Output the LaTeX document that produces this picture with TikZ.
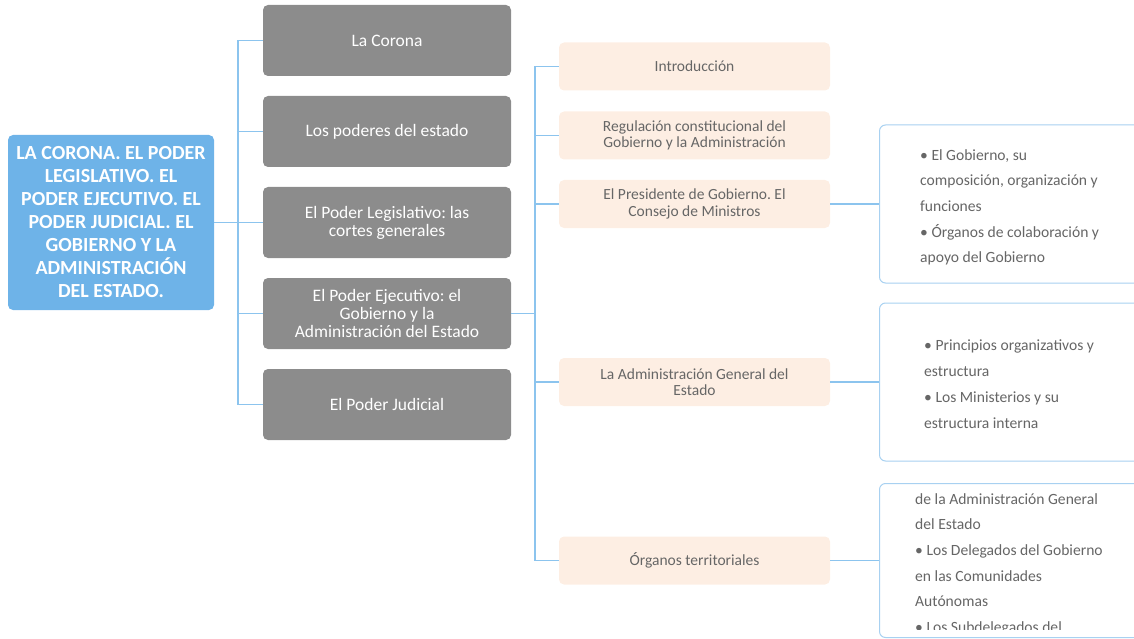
\documentclass[tikz,border=0pt]{standalone}
\usepackage{fontspec}
\setmainfont{Carlito}
\usepackage{tikz}
\usetikzlibrary{positioning}
\frenchspacing

\definecolor{rootblue}{HTML}{6EB3E8}
\definecolor{topicgray}{HTML}{8C8C8C}
\definecolor{subpeach}{HTML}{FDEEE3}
\definecolor{subtext}{HTML}{666666}
\definecolor{linkblue}{HTML}{8CC4EE}
\definecolor{noteblue}{HTML}{A8D1F1}

\tikzset{
    rootbox/.style={fill=rootblue, rounded corners=5pt, minimum width=206pt, minimum height=175pt,
        text=white, font=\fontsize{20}{23}\selectfont\bfseries, align=center, inner sep=0pt},
    topic/.style={fill=topicgray, rounded corners=5pt, minimum width=248pt, minimum height=71pt,
        text=white, font=\fontsize{17.5}{18}\selectfont, align=center, inner sep=0pt},
    subtopic/.style={fill=subpeach, rounded corners=5pt, minimum width=271pt, minimum height=48pt,
        text=subtext, font=\fontsize{15.5}{16.5}\selectfont, align=center, inner sep=0pt},
    notebox/.style={draw=noteblue, line width=1pt, fill=white, rounded corners=6pt,
        minimum width=285pt, minimum height=158pt, anchor=west},
    notetext/.style={text=subtext, font=\fontsize{15.6}{25.7}\selectfont, align=left,
        anchor=north west, inner sep=0pt},
    link/.style={draw=linkblue, line width=1.2pt},
}

\begin{document}
\begin{tikzpicture}[x=1pt,y=1pt,yscale=-1,xscale=1]
        \useasboundingbox (0,0) rectangle (1134,639);
        \clip (0,0) rectangle (1134,639);
        %Root
        \node [rootbox] (root) at (111,222.5) {LA CORONA. EL PODER\\LEGISLATIVO. EL\\PODER EJECUTIVO. EL\\PODER JUDICIAL. EL\\GOBIERNO Y LA\\ADMINISTRACIÓN\\DEL ESTADO.};
        %Topics
        \node [topic] (corona) at (387,40.5) {La Corona};
        \node [topic] (poderes) at (387,131.5) {Los poderes del estado};
        \node [topic] (legislativo) at (387,222.5) {El Poder Legislativo: las\\cortes generales};
        \node [topic] (ejecutivo) at (387,313.5) {El Poder Ejecutivo: el\\Gobierno y la\\Administración del Estado};
        \node [topic] (judicial) at (387,404.5) {El Poder Judicial};
        %Subtopics
        \node [subtopic] (intro) at (694.5,66.5) {Introducción};
        \node [subtopic] (regulacion) at (694.5,135.5) {Regulación constitucional del\\Gobierno y la Administración};
        \node [subtopic] (presidente) at (694.5,204) {El Presidente de Gobierno. El\\Consejo de Ministros};
        \node [subtopic] (age) at (694.5,382) {La Administración General del\\Estado};
        \node [subtopic] (organos) at (694.5,560.5) {Órganos territoriales};
        %Notes
        \node [notebox] (notegob) at (879,204) {};
        \node [notebox] (noteage) at (879,382) {};
        \node [notebox, minimum height=154pt] (noteterr) at (879,560.5) {};
        \node [notetext] (txtgob) at (920,149) {• El Gobierno, su\\composición, organización y\\funciones\\• Órganos de colaboración y\\apoyo del Gobierno};
        \node [notetext] (txtage) at (924,340) {• Principios organizativos y\\estructura\\• Los Ministerios y su\\estructura interna};
        \begin{scope}
            \clip (880,487) rectangle (1134,629);
            \node [notetext] (txtterr) at (915,493) {de la Administración General\\del Estado\\• Los Delegados del Gobierno\\en las Comunidades\\Autónomas\\• Los Subdelegados del};
        \end{scope}
        %Links root -> topics
        \coordinate (busa) at (238,0);
        \draw [link] (root.east) -- (busa |- root.east);
        \draw [link] (busa |- corona.west) -- (busa |- judicial.west);
        \foreach \t in {corona,poderes,legislativo,ejecutivo,judicial}
            \draw [link] (busa |- \t.west) -- (\t.west);
        %Links ejecutivo -> subtopics
        \coordinate (busb) at (535,0);
        \draw [link] (ejecutivo.east) -- (busb |- ejecutivo.east);
        \draw [link] (busb |- intro.west) -- (busb |- organos.west);
        \foreach \s in {intro,regulacion,presidente,age,organos}
            \draw [link] (busb |- \s.west) -- (\s.west);
        %Links subtopics -> notes
        \draw [link] (presidente.east) -- (notegob.west);
        \draw [link] (age.east) -- (noteage.west);
        \draw [link] (organos.east) -- (noteterr.west);
\end{tikzpicture}
\end{document}
